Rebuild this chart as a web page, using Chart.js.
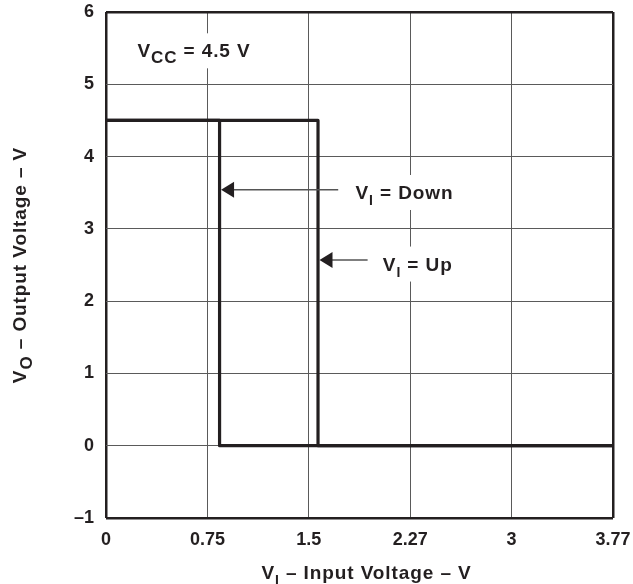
<!doctype html>
<html lang="en">
<head>
<meta charset="utf-8" />
<title>VO vs VI</title>
<script src="https://cdn.jsdelivr.net/npm/chart.js"></script>
<style>
  html, body { margin: 0; padding: 0; background: #fff; }
  #wrap { width: 633px; height: 584px; }
</style>
</head>
<body>
<div id="wrap"><canvas id="c" width="633" height="584"></canvas></div>
<script>
// tick labels of the x axis (evenly spaced on the plot)
const xTickValues = [0, 0.75, 1.5, 2.27, 3, 3.77];
const xTickLabels = ["0", "0.75", "1.5", "2.27", "3", "3.77"];
const yMin = -1;
const yMax = 6;

// VI rising (Up) and falling (Down) transfer curves, volts
const upX = [0, 1.57, 1.57, 3.77];
const upY = [4.5, 4.5, 0, 0];
const downX = [0, 0.84, 0.84, 3.77];
const downY = [4.5, 4.5, 0, 0];

const INK = "#231f20";
const GRID = "#5a5a5a";
const FONT = "'Liberation Sans', Arial, Helvetica, sans-serif";
const SPACING = "0.9px";

// volts -> position on the evenly spaced x axis (0..5)
function toAxis(v) {
  for (let i = 0; i < xTickValues.length - 1; i += 1) {
    const a = xTickValues[i], b = xTickValues[i + 1];
    if (v <= b) return i + (v - a) / (b - a);
  }
  return xTickValues.length - 1;
}

const pts = (xs, ys) => xs.map((x, i) => ({ x: toAxis(x), y: ys[i] }));

function partsWidth(ctx, parts) {
  let w = 0;
  for (const [t, s] of parts) {
    ctx.font = `bold ${s}px ${FONT}`;
    w += ctx.measureText(t).width;
  }
  return w;
}

// text with subscripts: [text, size, drop]
function drawParts(ctx, parts, x, yMid, align) {
  const w = partsWidth(ctx, parts);
  let cx = align === "center" ? x - w / 2 : x;
  const base = yMid + 7;
  for (const [t, s, d] of parts) {
    ctx.font = `bold ${s}px ${FONT}`;
    ctx.fillText(t, cx, base + d);
    cx += ctx.measureText(t).width;
  }
  return w;
}

const notes = [
  { parts: [["V", 19, 0], ["CC", 17, 6], [" = 4.5 V", 19, 0]], x: 0.31, y: 5.47 },
  { parts: [["V", 19, 0], ["I", 14, 6], [" = Down", 19, 0]], x: 2.46, y: 3.51 },
  { parts: [["V", 19, 0], ["I", 14, 6], [" = Up", 19, 0]], x: 2.73, y: 2.52 },
];
const arrows = [
  { tip: 0.84, y: 3.54, tail: 2.29 },
  { tip: 1.57, y: 2.57, tail: 2.58 },
];

const annotate = {
  id: "annotate",
  afterDraw(chart) {
    const { ctx, scales: { x, y }, chartArea: area } = chart;
    ctx.save();
    ctx.textBaseline = "alphabetic";
    ctx.textAlign = "left";
    ctx.letterSpacing = SPACING;

    // labels with white boxes over the grid
    for (const n of notes) {
      const px = x.getPixelForValue(n.x);
      const py = y.getPixelForValue(n.y);
      const w = partsWidth(ctx, n.parts);
      ctx.fillStyle = "#fff";
      ctx.fillRect(px - 6, py - 17, w + 12, 35);
      ctx.fillStyle = INK;
      drawParts(ctx, n.parts, px, py, "left");
    }

    // arrows pointing at the curves
    for (const a of arrows) {
      const tx = x.getPixelForValue(toAxis(a.tip)) + 1.5;
      const ty = y.getPixelForValue(a.y);
      const ex = x.getPixelForValue(a.tail);
      ctx.strokeStyle = "#555";
      ctx.lineWidth = 1.5;
      ctx.beginPath();
      ctx.moveTo(tx + 10, ty);
      ctx.lineTo(ex, ty);
      ctx.stroke();
      ctx.fillStyle = INK;
      ctx.beginPath();
      ctx.moveTo(tx, ty);
      ctx.lineTo(tx + 13, ty - 8);
      ctx.lineTo(tx + 13, ty + 8);
      ctx.closePath();
      ctx.fill();
    }

    // axis titles
    ctx.fillStyle = INK;
    drawParts(ctx, [["V", 19, 0], ["I", 14, 6], [" \u2013 Input Voltage \u2013 V", 19, 0]],
      (area.left + area.right) / 2 + 7, 572, "center");
    ctx.translate(26, (area.top + area.bottom) / 2);
    ctx.rotate(-Math.PI / 2);
    drawParts(ctx, [["V", 19, 0], ["O", 17, 6], [" \u2013 Output Voltage \u2013 V", 19, 0]],
      0, -7, "center");
    ctx.restore();
  },
};

const edgeX = (c) => (c.tick && (c.tick.value === 0 || c.tick.value === xTickValues.length - 1));
const edgeY = (c) => (c.tick && (c.tick.value === yMin || c.tick.value === yMax));

new Chart(document.getElementById("c"), {
  type: "scatter",
  data: {
    datasets: [
      { label: "VI = Up", data: pts(upX, upY) },
      { label: "VI = Down", data: pts(downX, downY) },
    ].map((d) => ({
      ...d,
      showLine: true,
      borderColor: INK,
      borderWidth: 3.2,
      pointRadius: 0,
      borderJoinStyle: "round",
      tension: 0,
      clip: false,
    })),
  },
  options: {
    responsive: false,
    animation: false,
    events: [],
    layout: { padding: { left: 0, top: 12, right: 20, bottom: 0 } },
    plugins: { legend: { display: false }, tooltip: { enabled: false } },
    scales: {
      x: {
        type: "linear",
        min: 0,
        max: xTickValues.length - 1,
        afterBuildTicks: (s) => { s.ticks = xTickValues.map((_, i) => ({ value: i })); },
        afterFit: (s) => {
          s.height = 66;
          s.paddingLeft = 0;
          s.paddingRight = 0;
        },
        ticks: {
          callback: (v) => xTickLabels[v],
          color: INK,
          padding: 11,
          maxRotation: 0,
          font: { family: FONT, size: 18, weight: "bold" },
        },
        grid: {
          drawTicks: false,
          color: (c) => (edgeX(c) ? INK : GRID),
          lineWidth: (c) => (edgeX(c) ? 2.5 : 1),
        },
        border: { display: false },
      },
      y: {
        min: yMin,
        max: yMax,
        afterBuildTicks: (s) => {
          const t = [];
          for (let v = yMin; v <= yMax; v += 1) t.push({ value: v });
          s.ticks = t;
        },
        afterFit: (s) => {
          s.width = 106;
          s.paddingTop = 0;
          s.paddingBottom = 0;
        },
        ticks: {
          callback: (v) => (v < 0 ? "\u2013" + Math.abs(v) : String(v)),
          color: INK,
          padding: 12,
          font: { family: FONT, size: 18, weight: "bold" },
        },
        grid: {
          drawTicks: false,
          color: (c) => (edgeY(c) ? INK : GRID),
          lineWidth: (c) => (edgeY(c) ? 2.5 : 1),
        },
        border: { display: false },
      },
    },
  },
  plugins: [annotate],
});
</script>
</body>
</html>
